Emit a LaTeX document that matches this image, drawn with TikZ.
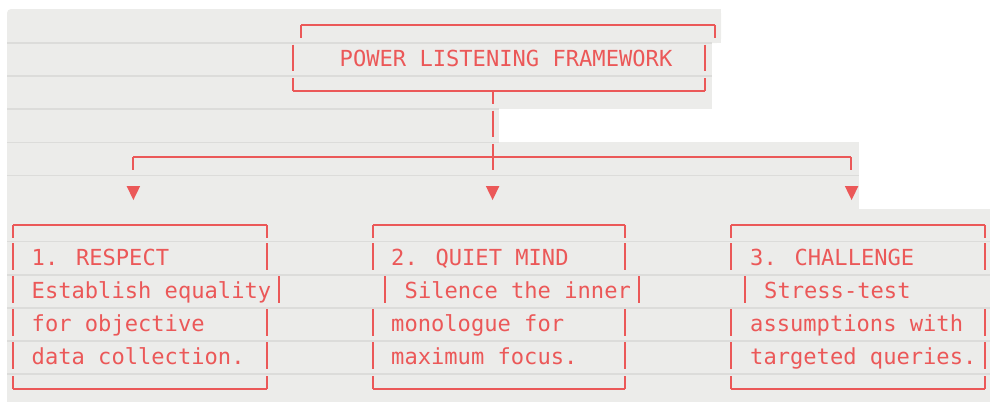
\documentclass[tikz,border=0pt]{standalone}
\usepackage{fontspec}
\newfontfamily\monofnt{DejaVu Sans Mono}
\definecolor{lc}{RGB}{235,88,88}
\definecolor{rowbg}{RGB}{236,236,234}
\definecolor{sepc}{RGB}{220,220,218}
\tikzset{
  ln/.style={draw=lc, line width=2pt},
  sep/.style={draw=sepc, line width=1.6pt},
  txt/.style={anchor=base west, inner sep=0pt, text=lc, font=\monofnt\fontsize{22.1}{26}\selectfont},
  tri/.style={fill=lc}
}
% row top of row #1
\newcommand\rtop[1]{(9.9+33.1*(#1-1))}
% vertical bar in row #2 at x=#1
\newcommand\myvbar[2]{\draw[ln] (#1,{\rtop{#2}+1.5}) -- (#1,{\rtop{#2}+28});}
% box top edge: x from #1 to #2, horizontal at y=#3, ticks down to #4
\newcommand\mytop[4]{%
  \draw[ln] (#1,#3) -- (#2,#3);
  \draw[ln] (#1,#3) -- (#1,#4);
  \draw[ln] (#2,#3) -- (#2,#4);}
% text in row #3 at x=#1
\newcommand\mytxt[4]{\node[txt] (#4) at (#1,{\rtop{#3}+23.8}) {#2};}
\begin{document}
\begin{tikzpicture}[x=1pt,y=-1pt]
\useasboundingbox (0,0) rectangle (990,402);
% ---- row backgrounds
\fill[rowbg, rounded corners=4pt] (7,9) rectangle (721,43);
\fill[rowbg] (15,9) rectangle (721,43);
\fill[rowbg] (7,20) rectangle (721,43);
\fill[rowbg] (7,43) rectangle (712.4,{\rtop{4}});
\fill[rowbg] (7,{\rtop{4}}) rectangle (499,{\rtop{5}});
\fill[rowbg] (7,{\rtop{5}}) rectangle (859,{\rtop{7}});
\fill[rowbg] (7,{\rtop{7}}) rectangle (990,402);
% ---- separators
\draw[sep] (7,{\rtop{2}}) -- (712.4,{\rtop{2}});
\draw[sep] (7,{\rtop{3}}) -- (712.4,{\rtop{3}});
\draw[sep] (7,{\rtop{4}}) -- (499,{\rtop{4}});
\draw[sep] (7,{\rtop{5}}) -- (499,{\rtop{5}});
\draw[sep] (7,{\rtop{6}}) -- (859,{\rtop{6}});
\foreach \r in {8,...,12} {\draw[sep] (7,{\rtop{\r}}) -- (990,{\rtop{\r}});}
% ---- title box
\mytop{301}{715}{25}{38}
\myvbar{293}{2}
\myvbar{705}{2}
\mytop{293}{705}{91}{78}
\mytxt{339.5}{POWER LISTENING FRAMEWORK}{2}{title}
% ---- trunk and branches
\draw[ln] (493,91) -- (493,104);
\myvbar{493}{4}
\myvbar{493}{5}
\mytop{133}{851}{157}{170}
\foreach \x in {133.4,492.6,851.6} {
  \fill[tri] (\x-6.8,{\rtop{6}+10.6}) -- (\x+6.8,{\rtop{6}+10.6}) -- (\x,{\rtop{6}+24.6}) -- cycle;
}
% ---- three boxes: tops and bottoms
\mytop{13}{267}{225}{238}
\mytop{373}{625}{225}{238}
\mytop{731}{985}{225}{238}
\mytop{13}{267}{389}{375.5}
\mytop{373}{625}{389}{375.5}
\mytop{731}{985}{389}{375.5}
% side bars
\foreach \r in {8,10,11} {
  \myvbar{13}{\r}
  \myvbar{267}{\r}
  \myvbar{373}{\r}
  \myvbar{625}{\r}
  \myvbar{731}{\r}
  \myvbar{985}{\r}
}
\myvbar{13}{9}
\myvbar{279}{9}
\myvbar{385}{9}
\myvbar{639}{9}
\myvbar{745}{9}
% ---- texts
\mytxt{31.5}{1. RESPECT}{8}{a1}
\mytxt{391}{2. QUIET MIND}{8}{b1}
\mytxt{750}{3. CHALLENGE}{8}{c1}
\mytxt{31.5}{Establish equality}{9}{a2}
\mytxt{404.5}{Silence the inner}{9}{b2}
\mytxt{764}{Stress-test}{9}{c2}
\mytxt{31.5}{for objective}{10}{a3}
\mytxt{391}{monologue for}{10}{b3}
\mytxt{750}{assumptions with}{10}{c3}
\mytxt{31.5}{data collection.}{11}{a4}
\mytxt{391}{maximum focus.}{11}{b4}
\mytxt{750}{targeted queries.}{11}{c4}
\end{tikzpicture}
\end{document}
